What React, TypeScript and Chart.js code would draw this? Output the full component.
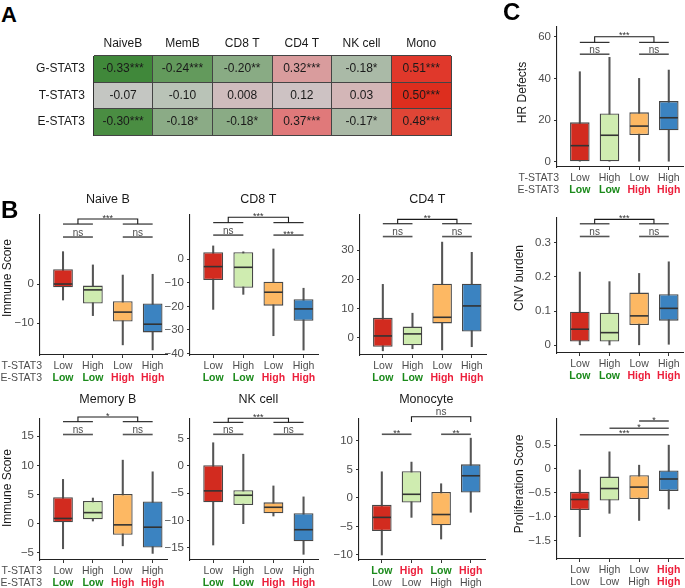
import React, { useEffect, useRef } from 'react';
import { Chart, registerables } from 'chart.js';

Chart.register(...registerables);

const FONT = "'Liberation Sans', Arial, Helvetica, sans-serif";
Chart.defaults.font.family = FONT;
Chart.defaults.color = '#4d4d4d';

/* ---------------- Panel A: correlation heat map ---------------- */
const cellTypes = ['NaiveB', 'MemB', 'CD8 T', 'CD4 T', 'NK cell', 'Mono'];
const stat3Rows = ['G-STAT3', 'T-STAT3', 'E-STAT3'];
const corrG = [-0.33, -0.24, -0.2, 0.32, -0.18, 0.51];
const corrT = [-0.07, -0.1, 0.008, 0.12, 0.03, 0.5];
const corrE = [-0.3, -0.18, -0.18, 0.37, -0.17, 0.48];
const sigG = ['***', '***', '**', '***', '*', '***'];
const sigT = ['', '', '', '', '', '***'];
const sigE = ['***', '*', '*', '***', '*', '***'];

/* heat-map cell fills (style) */
const fillG = ['#40883a', '#639a5c', '#89ab84', '#d99c9d', '#aabaa7', '#e0382b'];
const fillT = ['#c4c6c2', '#b9c3b7', '#cfbcbd', '#cdc2c3', '#d3b6b7', '#dd2e1e'];
const fillE = ['#4a8d42', '#8bab86', '#8aab85', '#e0797a', '#aab9a6', '#e04536'];

/* ---------------- Panels B and C: box plots ---------------- */
/* each row: [lower whisker, Q1, median, Q3, upper whisker] */
const tStat3 = ['Low', 'High', 'Low', 'High'];
const eStat3 = ['Low', 'Low', 'High', 'High'];

const naiveB = [[-4.1, -0.85, 0, 3.8, 8.3], [-8.1, -5.0, -1.5, -0.4, 4.9], [-15.6, -9.6, -7.2, -4.4, 2.3], [-16.9, -12.4, -10.3, -5.0, 2.5]];
const cd8T = [[-21.3, -8.8, -3.1, 3.0, 5.7], [-14.9, -12.1, -3.4, 3.0, 3.2], [-32.5, -19.7, -14.0, -9.5, 4.4], [-38.6, -26.1, -21.1, -17.0, -12.3]];
const cd4T = [[-4.5, -3.1, 0.6, 6.8, 18.3], [-3.8, -2.6, 1.3, 3.8, 8.4], [-4.2, 4.9, 7.0, 18.5, 32.8], [-3.1, 2.1, 10.9, 18.5, 29.3]];
const memoryB = [[-4.3, 0.24, 0.9, 4.55, 7.6], [0.46, 0.75, 1.9, 3.9, 4.4], [-3.8, -1.9, -0.2, 5.1, 10.9], [-5.1, -4.1, -0.6, 3.8, 8.9]];
const nkCell = [[-14.5, -6.7, -4.6, 0.1, 4.2], [-10.6, -7.2, -5.4, -4.5, 2.1], [-9.2, -8.7, -7.6, -6.7, -3.7], [-16.2, -13.8, -11.7, -8.7, -5.7]];
const monocyte = [[-10, -5.8, -3.4, -1.2, 4.6], [-3.4, -0.8, 0.65, 4.7, 6.3], [-7.2, -4.8, -2.9, 1.05, 2.5], [-2.5, 0.95, 3.9, 5.9, 10.5]];
const hrDefects = [[0, 0, 7.7, 18.9, 43.2], [0, 0, 12.7, 23.2, 50.1], [0, 12.8, 17.1, 23.7, 40], [0, 15.1, 21.1, 29.1, 44]];
const cnvBurden = [[0, 0.011, 0.047, 0.098, 0.214], [0.001, 0.011, 0.037, 0.095, 0.186], [0, 0.059, 0.086, 0.154, 0.21], [0.003, 0.072, 0.108, 0.149, 0.244]];
const proliferation = [[-1.42, -0.86, -0.64, -0.48, -0.02], [-0.93, -0.66, -0.41, -0.16, 0.36], [-1.08, -0.63, -0.38, -0.13, 0.08], [-0.84, -0.46, -0.21, -0.03, 0.5]];

/* significance labels: [pair 1-2, pair 3-4, (1,2) vs (3,4)] */
const naiveBSig = ['ns', 'ns', '***'];
const cd8TSig = ['ns', '***', '***'];
const cd4TSig = ['ns', 'ns', '**'];
const memoryBSig = ['ns', 'ns', '*'];
const nkCellSig = ['ns', 'ns', '***'];
const monocyteSig = ['**', '**', 'ns']; // 1-2, 3-4, 2 vs 4
const hrSig = ['ns', 'ns', '***'];
const cnvSig = ['ns', 'ns', '***'];
const prolifSig = ['*', '*', '***']; // 3-4, 2-4, 1-4

/* y-axis ticks */
const naiveBTicks = [-10, 0];
const naiveBTickLabels = ['\u221210', '0'];
const cd8TTicks = [-40, -30, -20, -10, 0];
const cd8TTickLabels = ['\u221240', '\u221230', '\u221220', '\u221210', '0'];
const cd4TTicks = [0, 10, 20, 30];
const cd4TTickLabels = ['0', '10', '20', '30'];
const memoryBTicks = [-5, 0, 5, 10, 15];
const memoryBTickLabels = ['\u22125', '0', '5', '10', '15'];
const nkTicks = [-15, -10, -5, 0, 5];
const nkTickLabels = ['\u221215', '\u221210', '\u22125', '0', '5'];
const monoTicks = [-10, -5, 0, 5, 10];
const monoTickLabels = ['\u221210', '\u22125', '0', '5', '10'];
const hrTicks = [0, 20, 40, 60];
const hrTickLabels = ['0', '20', '40', '60'];
const cnvTicks = [0, 0.1, 0.2, 0.3];
const cnvTickLabels = ['0', '0.1', '0.2', '0.3'];
const prolifTicks = [-1.5, -1, -0.5, 0, 0.5];
const prolifTickLabels = ['\u22121.5', '\u22121.0', '\u22120.5', '0', '0.5'];

/* ---------------- styles ---------------- */
const BOX_FILLS = ['#d22b1f', '#cfecb0', '#fdb863', '#3b83c1'];
const LABEL_COLORS: Record<string, string> = { p: '#4d4d4d', g: '#1b8a1b', r: '#ec1f3b' };
const X_MIN = 0.23;
const X_MAX = 4.48;
const POS = [1, 2, 3, 4];

type Bracket = { kind: 'line' | 'bracket'; from: number; to: number; y: number; yEnd?: number; label: string };

const standardBrackets = (sig: string[], lv: number[]): Bracket[] => [
  { kind: 'line', from: 1, to: 2, y: lv[2], label: sig[0] },
  { kind: 'line', from: 3, to: 4, y: lv[2], label: sig[1] },
  { kind: 'line', from: 1, to: 2, y: lv[1], label: '' },
  { kind: 'line', from: 3, to: 4, y: lv[1], label: '' },
  { kind: 'bracket', from: 1.5, to: 3.5, y: lv[0], yEnd: lv[1], label: sig[2] },
];

interface PanelSpec {
  key: string;
  title?: string;
  titleDy?: number;
  yTitle?: string;
  yTitleDx?: number;
  yTitleDy?: number;
  rowLabels?: boolean;
  area: { left: number; right: number; top: number; bottom: number };
  yAxisWidth: number;
  padTop: number;
  yMin: number;
  yMax: number;
  yTicks: number[];
  yLabels: string[];
  stats: number[][];
  row1: string[];
  row2: string[];
  row1Style: string[];
  row2Style: string[];
  brackets: Bracket[];
}

const STD1 = ['p', 'p', 'p', 'p'];
const STD2 = ['g', 'g', 'r', 'r'];

const panels: PanelSpec[] = [
  {
    key: 'naiveB', title: 'Naive B', titleDy: 15, yTitle: 'Immune Score', yTitleDx: 32, yTitleDy: -7, rowLabels: true,
    area: { left: 40, right: 167, top: 215, bottom: 355 }, yAxisWidth: 40, padTop: 30,
    yMin: -18.2, yMax: 17.7, yTicks: naiveBTicks, yLabels: naiveBTickLabels, stats: naiveB,
    row1: tStat3, row2: eStat3, row1Style: STD1, row2Style: STD2,
    brackets: standardBrackets(naiveBSig, [16.67, 15.38, 12.05]),
  },
  {
    key: 'cd8T', title: 'CD8 T', titleDy: 15,
    area: { left: 190, right: 318, top: 215, bottom: 355 }, yAxisWidth: 40, padTop: 30,
    yMin: -40.7, yMax: 18.85, yTicks: cd8TTicks, yLabels: cd8TTickLabels, stats: cd8T,
    row1: tStat3, row2: eStat3, row1Style: STD1, row2Style: STD2,
    brackets: standardBrackets(cd8TSig, [17.9, 15.6, 10.3]),
  },
  {
    key: 'cd4T', title: 'CD4 T', titleDy: 15,
    area: { left: 360, right: 486, top: 215, bottom: 355 }, yAxisWidth: 40, padTop: 30,
    yMin: -5.94, yMax: 42.1, yTicks: cd4TTicks, yLabels: cd4TTickLabels, stats: cd4T,
    row1: tStat3, row2: eStat3, row1Style: STD1, row2Style: STD2,
    brackets: standardBrackets(cd4TSig, [40.6, 39.1, 34.7]),
  },
  {
    key: 'memoryB', title: 'Memory B', titleDy: 19, yTitle: 'Immune Score', yTitleDx: 32.5, yTitleDy: -1.5, rowLabels: true,
    area: { left: 40, right: 167, top: 419, bottom: 560 }, yAxisWidth: 40, padTop: 30,
    yMin: -6.23, yMax: 17.96, yTicks: memoryBTicks, yLabels: memoryBTickLabels, stats: memoryB,
    row1: tStat3, row2: eStat3, row1Style: STD1, row2Style: STD2,
    brackets: standardBrackets(memoryBSig, [18.3, 17.5, 15.3]),
  },
  {
    key: 'nk', title: 'NK cell', titleDy: 19,
    area: { left: 190, right: 318, top: 419, bottom: 560 }, yAxisWidth: 40, padTop: 30,
    yMin: -17.24, yMax: 8.54, yTicks: nkTicks, yLabels: nkTickLabels, stats: nkCell,
    row1: tStat3, row2: eStat3, row1Style: STD1, row2Style: STD2,
    brackets: standardBrackets(nkCellSig, [8.67, 7.93, 5.74]),
  },
  {
    key: 'mono', title: 'Monocyte', titleDy: 19,
    area: { left: 359, right: 485, top: 419, bottom: 560 }, yAxisWidth: 40, padTop: 30,
    yMin: -10.88, yMax: 13.86, yTicks: monoTicks, yLabels: monoTickLabels, stats: monocyte,
    row1: tStat3, row2: eStat3, row1Style: ['g', 'r', 'g', 'r'], row2Style: STD1,
    brackets: [
      { kind: 'line', from: 1, to: 2, y: 11.18, label: monocyteSig[0] },
      { kind: 'line', from: 3, to: 4, y: 11.18, label: monocyteSig[1] },
      { kind: 'bracket', from: 2, to: 4, y: 14.26, yEnd: 13.33, label: monocyteSig[2] },
    ],
  },
  {
    key: 'hr', yTitle: 'HR Defects', yTitleDx: 34, yTitleDy: -4.5, rowLabels: true,
    area: { left: 557, right: 683, top: 27, bottom: 167 }, yAxisWidth: 43, padTop: 27,
    yMin: -2.54, yMax: 64.67, yTicks: hrTicks, yLabels: hrTickLabels, stats: hrDefects,
    row1: tStat3, row2: eStat3, row1Style: STD1, row2Style: STD2,
    brackets: standardBrackets(hrSig, [60.0, 57.3, 51.6]),
  },
  {
    key: 'cnv', yTitle: 'CNV burden', yTitleDx: 37, yTitleDy: -7.5,
    area: { left: 557, right: 683, top: 218, bottom: 353 }, yAxisWidth: 47, padTop: 30,
    yMin: -0.0225, yMax: 0.372, yTicks: cnvTicks, yLabels: cnvTickLabels, stats: cnvBurden,
    row1: tStat3, row2: eStat3, row1Style: STD1, row2Style: STD2,
    brackets: standardBrackets(cnvSig, [0.368, 0.355, 0.318]),
  },
  {
    key: 'prolif', yTitle: 'Proliferation Score', yTitleDx: 37, yTitleDy: -5,
    area: { left: 557, right: 683, top: 419, bottom: 559 }, yAxisWidth: 47, padTop: 30,
    yMin: -1.889, yMax: 1.049, yTicks: prolifTicks, yLabels: prolifTickLabels, stats: proliferation,
    row1: tStat3, row2: eStat3, row1Style: ['p', 'p', 'p', 'r'], row2Style: ['p', 'p', 'p', 'r'],
    brackets: [
      { kind: 'line', from: 3, to: 4, y: 1.007, label: prolifSig[0] },
      { kind: 'line', from: 2, to: 4, y: 0.854, label: prolifSig[1] },
      { kind: 'line', from: 1, to: 4, y: 0.72, label: prolifSig[2] },
    ],
  },
];

const X1H = 17;
const X2H = 15;
const PAD_R = 3;
const PAD_B = 2;

function boxPlugin(spec: PanelSpec) {
  return {
    id: 'boxExtras_' + spec.key,
    afterDatasetsDraw(chart: any) {
      const ctx = chart.ctx;
      const ys = chart.scales.y;
      const meta = chart.getDatasetMeta(0);
      ctx.save();
      ctx.strokeStyle = '#333';
      ctx.lineWidth = 1.6;
      meta.data.forEach((el: any, i: number) => {
        const p = el.getProps(['x', 'width'], true);
        const py = ys.getPixelForValue(spec.stats[i][2]);
        ctx.beginPath();
        ctx.moveTo(p.x - p.width / 2 + 0.6, py);
        ctx.lineTo(p.x + p.width / 2 - 0.6, py);
        ctx.stroke();
      });
      ctx.restore();
    },
    afterDraw(chart: any) {
      const ctx = chart.ctx;
      const xs = chart.scales.x;
      const ys = chart.scales.y;
      const ca = chart.chartArea;
      ctx.save();
      if (spec.title) {
        ctx.font = `12.5px ${FONT}`;
        ctx.fillStyle = '#1a1a1a';
        ctx.textAlign = 'center';
        ctx.textBaseline = 'middle';
        ctx.fillText(spec.title, xs.getPixelForValue(2.5), ca.top - (spec.titleDy || 15));
      }
      if (spec.yTitle) {
        ctx.save();
        ctx.translate(ca.left - (spec.yTitleDx || 32), (ca.top + ca.bottom) / 2 + (spec.yTitleDy || 0));
        ctx.rotate(-Math.PI / 2);
        ctx.font = `12px ${FONT}`;
        ctx.fillStyle = '#1a1a1a';
        ctx.textAlign = 'center';
        ctx.textBaseline = 'middle';
        ctx.fillText(spec.yTitle, 0, 0);
        ctx.restore();
      }
      if (spec.rowLabels) {
        ctx.font = `10.5px ${FONT}`;
        ctx.fillStyle = '#4d4d4d';
        ctx.textAlign = 'right';
        ctx.textBaseline = 'middle';
        ctx.fillText('T-STAT3', ca.left + 2, ca.bottom + 11.3);
        ctx.fillText('E-STAT3', ca.left + 2, ca.bottom + 23.3);
      }
      for (const b of spec.brackets) {
        const x1 = xs.getPixelForValue(b.from);
        const x2 = xs.getPixelForValue(b.to);
        const py = ys.getPixelForValue(b.y);
        ctx.beginPath();
        if (b.kind === 'bracket') {
          const pe = ys.getPixelForValue(b.yEnd as number);
          ctx.moveTo(x1, pe);
          ctx.lineTo(x1, py);
          ctx.lineTo(x2, py);
          ctx.lineTo(x2, pe);
          ctx.strokeStyle = '#1a1a1a';
          ctx.lineWidth = 1.1;
        } else {
          ctx.moveTo(x1, py);
          ctx.lineTo(x2, py);
          if (b.label) {
            ctx.strokeStyle = '#555';
            ctx.lineWidth = 1.6;
          } else {
            ctx.strokeStyle = '#1a1a1a';
            ctx.lineWidth = 1.1;
          }
        }
        ctx.stroke();
        if (b.label) {
          ctx.textAlign = 'center';
          ctx.textBaseline = 'alphabetic';
          if (b.label === 'ns') {
            ctx.font = `10px ${FONT}`;
            ctx.fillStyle = '#4d4d4d';
            ctx.fillText('ns', (x1 + x2) / 2, py - 1.5);
          } else {
            ctx.font = `9px ${FONT}`;
            ctx.fillStyle = '#333';
            ctx.fillText(b.label, (x1 + x2) / 2, py + 1.5);
          }
        }
      }
      ctx.restore();
    },
  };
}

function xTickStyle(styles: string[]) {
  return {
    color: (c: any) => LABEL_COLORS[styles[c.index]] || '#4d4d4d',
    font: (c: any) => ({ family: FONT, size: 10.5, weight: styles[c.index] === 'p' ? 'normal' : 'bold' }),
  };
}

function boxConfig(spec: PanelSpec): any {
  return {
    type: 'bar',
    data: {
      datasets: [
        {
          label: 'box',
          xAxisID: 'x',
          yAxisID: 'y',
          data: spec.stats.map((s, i) => ({ x: POS[i], y: [s[1], s[3]] })),
          backgroundColor: BOX_FILLS,
          borderColor: '#474747',
          borderWidth: 1.3,
          borderSkipped: false,
          grouped: false,
          barPercentage: 0.66,
          categoryPercentage: 1,
        },
        {
          label: 'whisker',
          xAxisID: 'x',
          yAxisID: 'y',
          data: spec.stats.map((s, i) => ({ x: POS[i], y: [s[0], s[4]] })),
          backgroundColor: '#555',
          borderWidth: 0,
          grouped: false,
          barThickness: 1.4,
        },
      ],
    },
    options: {
      animation: false,
      responsive: false,
      devicePixelRatio: 1,
      layout: { padding: { top: spec.padTop, right: PAD_R, bottom: PAD_B, left: 0 } },
      plugins: { legend: { display: false }, tooltip: { enabled: false }, title: { display: false } },
      scales: {
        x: {
          type: 'linear',
          position: 'bottom',
          min: X_MIN,
          max: X_MAX,
          offset: false,
          weight: 0,
          afterBuildTicks: (s: any) => { s.ticks = POS.map((v) => ({ value: v })); },
          grid: { display: true, offset: false, drawOnChartArea: false, drawTicks: true, tickLength: 3, color: '#333', lineWidth: 1 },
          border: { display: true, color: '#222', width: 1.1 },
          ticks: { autoSkip: false, maxRotation: 0, padding: 2, callback: (_v: any, i: number) => spec.row1[i], ...xTickStyle(spec.row1Style) },
          afterFit: (s: any) => { s.height = X1H; },
        },
        x2: {
          type: 'linear',
          position: 'bottom',
          min: X_MIN,
          max: X_MAX,
          offset: false,
          weight: 1,
          afterBuildTicks: (s: any) => { s.ticks = POS.map((v) => ({ value: v })); },
          grid: { display: false, offset: false, drawTicks: false },
          border: { display: false },
          ticks: { autoSkip: false, maxRotation: 0, padding: 0, callback: (_v: any, i: number) => spec.row2[i], ...xTickStyle(spec.row2Style) },
          afterFit: (s: any) => { s.height = X2H; },
        },
        y: {
          type: 'linear',
          position: 'left',
          min: spec.yMin,
          max: spec.yMax,
          afterBuildTicks: (s: any) => { s.ticks = spec.yTicks.map((v) => ({ value: v })); },
          grid: { display: true, drawOnChartArea: false, drawTicks: true, tickLength: 3, color: '#333', lineWidth: 1 },
          border: { display: true, color: '#222', width: 1.1 },
          ticks: { autoSkip: false, padding: 3, color: '#4d4d4d', font: { family: FONT, size: 11.5 }, callback: (_v: any, i: number) => spec.yLabels[i] },
          afterFit: (s: any) => { s.width = spec.yAxisWidth; },
        },
      },
    },
    plugins: [boxPlugin(spec)],
  };
}

function BoxChart({ spec }: { spec: PanelSpec }) {
  const ref = useRef<HTMLCanvasElement>(null);
  const w = spec.yAxisWidth + (spec.area.right - spec.area.left) + PAD_R;
  const h = spec.padTop + (spec.area.bottom - spec.area.top) + X1H + X2H + PAD_B;
  const left = spec.area.left - spec.yAxisWidth;
  const top = spec.area.top - spec.padTop;
  useEffect(() => {
    if (!ref.current) return;
    const chart = new Chart(ref.current, boxConfig(spec));
    return () => chart.destroy();
  }, [spec]);
  return <canvas ref={ref} width={w} height={h} style={{ position: 'absolute', left, top, width: w, height: h }} />;
}

/* ---------------- heat map ---------------- */
const fmtCorr = (v: number) => (Math.abs(v) < 0.01 ? v.toFixed(3) : v.toFixed(2));

const heatTextPlugin = {
  id: 'heatText',
  afterDraw(chart: any) {
    const ctx = chart.ctx;
    const rows: [number[], string[]][] = [[corrG, sigG], [corrT, sigT], [corrE, sigE]];
    ctx.save();
    ctx.font = `12px ${FONT}`;
    ctx.fillStyle = '#1a1a1a';
    ctx.textAlign = 'center';
    ctx.textBaseline = 'middle';
    chart.data.datasets.forEach((_ds: any, j: number) => {
      const meta = chart.getDatasetMeta(j);
      meta.data.forEach((el: any, r: number) => {
        const p = el.getProps(['x', 'y', 'base'], true);
        const [vals, sigs] = rows[r];
        ctx.fillText(fmtCorr(vals[j]) + sigs[j], (p.x + p.base) / 2, p.y);
      });
    });
    ctx.restore();
  },
};

const HEAT = { left: 0, top: 30, width: 460, height: 121 };

function Heatmap() {
  const ref = useRef<HTMLCanvasElement>(null);
  useEffect(() => {
    if (!ref.current) return;
    const fills = [fillG, fillT, fillE];
    const chart = new Chart(ref.current, {
      type: 'bar',
      data: {
        labels: stat3Rows,
        datasets: cellTypes.map((ct, j) => ({
          label: ct,
          xAxisID: 'x',
          yAxisID: 'y',
          data: stat3Rows.map(() => 1),
          backgroundColor: fills.map((f) => f[j]),
          borderWidth: 0,
          barPercentage: 1,
          categoryPercentage: 1,
        })),
      },
      options: {
        indexAxis: 'y',
        animation: false,
        responsive: false,
        devicePixelRatio: 1,
        layout: { padding: { top: 0, right: 9, bottom: 16, left: 0 } },
        plugins: { legend: { display: false }, tooltip: { enabled: false } },
        scales: {
          x: {
            type: 'linear',
            position: 'bottom',
            stacked: true,
            min: 0,
            max: 6,
            ticks: { display: false, stepSize: 1 },
            grid: { color: '#444', lineWidth: 1, drawTicks: false, z: 1 },
            border: { display: true, color: '#333', z: 1 },
            afterFit: (s: any) => { s.height = 0; },
          },
          xTop: {
            type: 'category',
            labels: cellTypes,
            position: 'top',
            offset: true,
            grid: { display: false, drawTicks: false },
            border: { display: false },
            ticks: { color: '#1a1a1a', font: { family: FONT, size: 12 }, padding: 5, autoSkip: false, maxRotation: 0 },
            afterFit: (s: any) => { s.height = 26; },
          },
          y: {
            type: 'category',
            stacked: true,
            grid: { offset: true, color: '#444', lineWidth: 1, drawTicks: false, z: 1 },
            border: { display: true, color: '#333', z: 1 },
            ticks: { color: '#1a1a1a', font: { family: FONT, size: 12 }, padding: 8 },
            afterFit: (s: any) => { s.width = 93; },
          },
        },
      } as any,
      plugins: [heatTextPlugin],
    } as any);
    return () => chart.destroy();
  }, []);
  return (
    <canvas
      ref={ref}
      width={HEAT.width}
      height={HEAT.height}
      style={{ position: 'absolute', left: HEAT.left, top: HEAT.top, width: HEAT.width, height: HEAT.height }}
    />
  );
}

const letterStyle = (left: number, top: number, size: number): React.CSSProperties => ({
  position: 'absolute',
  left,
  top,
  fontFamily: FONT,
  fontWeight: 'bold',
  fontSize: size,
  lineHeight: `${size}px`,
  color: '#000',
  margin: 0,
});

export default function App() {
  return (
    <div style={{ position: 'absolute', left: 0, top: 0, width: 685, height: 588, background: '#fff', overflow: 'hidden' }}>
      <Heatmap />
      {panels.map((p) => (
        <BoxChart key={p.key} spec={p} />
      ))}
      <div style={letterStyle(1, 3.7, 22)}>A</div>
      <div style={letterStyle(1, 198, 24)}>B</div>
      <div style={letterStyle(503, 0.4, 24)}>C</div>
    </div>
  );
}
